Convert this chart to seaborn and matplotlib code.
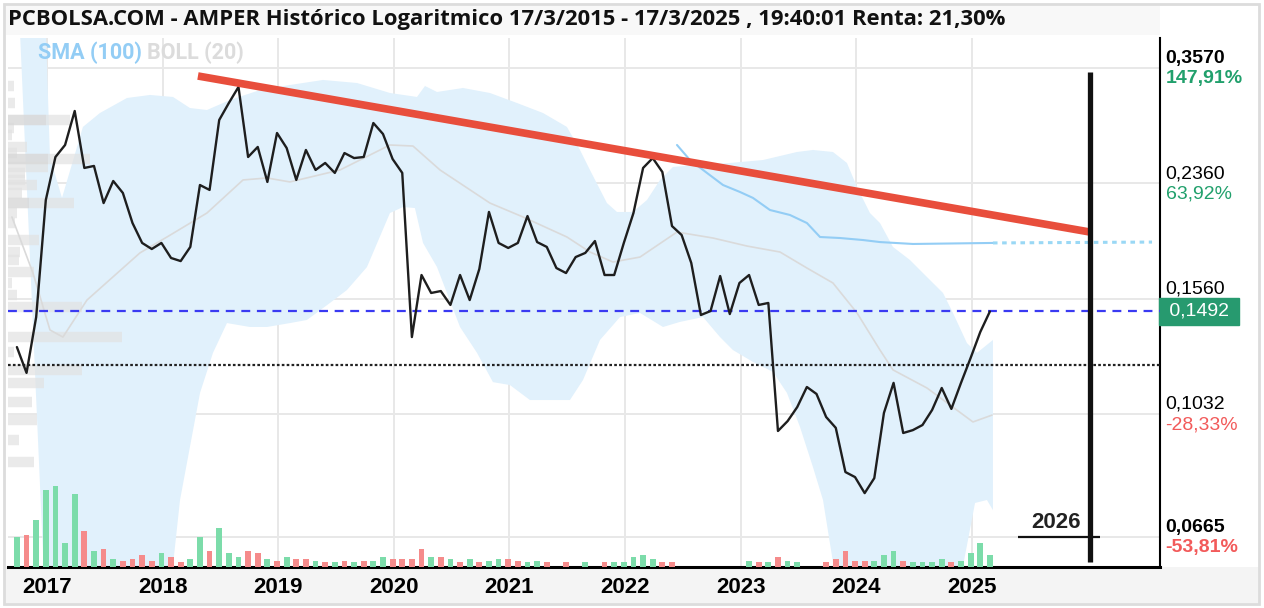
import numpy as np
import matplotlib
matplotlib.use("Agg")
import matplotlib.pyplot as plt
import seaborn as sns
from matplotlib.patches import Rectangle

# ---------------- data ----------------
START = 2016.74  # first monthly point (decimal year)
price = [0.1313, 0.1197, 0.1462, 0.2224, 0.2595, 0.2709, 0.3060, 0.2495, 0.2513, 0.2200,
         0.2381, 0.2281, 0.2048, 0.1907, 0.1866, 0.1907, 0.1807, 0.1787, 0.1880, 0.2347,
         0.2306, 0.2963, 0.3149, 0.3335, 0.2595, 0.2690, 0.2373, 0.2828, 0.2680, 0.2390,
         0.2661, 0.2477, 0.2540, 0.2451, 0.2632, 0.2585, 0.2595, 0.2931, 0.2818, 0.2576,
         0.2451, 0.1361, 0.1700, 0.1594, 0.1605, 0.1527, 0.1700, 0.1554, 0.1737, 0.2131,
         0.1907, 0.1873, 0.1907, 0.2100, 0.1913, 0.1880, 0.1743, 0.1712, 0.1813, 0.1840,
         0.1920, 0.1700, 0.1700, 0.1907, 0.2123, 0.2495, 0.2585, 0.2459, 0.2026, 0.1962,
         0.1775, 0.1473, 0.1494, 0.1694, 0.1478, 0.1652, 0.1700, 0.1527, 0.1538, 0.0972,
         0.1007, 0.1059, 0.1138, 0.1110, 0.1022, 0.0983, 0.0839, 0.0824, 0.0778, 0.0821,
         0.1037, 0.1155, 0.0965, 0.0975, 0.0993, 0.1048, 0.1134, 0.1052, 0.1155, 0.1263,
         0.1386, 0.1492]

volume = [90, 97, 143, 233, 245, 72, 222, 108, 47, 54,
          24, 19, 24, 35, 19, 42, 30, 14, 24, 90,
          48, 119, 42, 30, 48, 42, 24, 19, 30, 24,
          24, 19, 14, 14, 19, 14, 19, 19, 30, 24,
          24, 24, 54, 30, 30, 24, 14, 24, 14, 19,
          24, 24, 19, 14, 19, 14, 0, 14, 0, 14,
          0, 14, 14, 14, 30, 35, 24, 14, 14, 0,
          0, 0, 0, 0, 0, 0, 19, 14, 14, 30,
          19, 14, 0, 0, 14, 24, 48, 19, 19, 19,
          35, 48, 19, 14, 14, 14, 24, 14, 19, 42,
          72, 35]
vol_dir = ("GRGGGGGRGR" "GRRRRGRRGG" "RGGGRRGRGR" "RGRGRGRGGR" "RRRGRGRGRG"
           "GRRGGRGRGG" "GRGGGGGRRG" "GGGGGGGRGR" "GGGGRRRRRG" "GGRGGGGRGG" "GG")

boll_up_x = [2016.766, 2016.983, 2017.026, 2017.130, 2017.311, 2017.458, 2017.692, 2017.891,
             2018.090, 2018.237, 2018.384, 2018.583, 2018.843, 2019.102, 2019.388, 2019.682,
             2019.967, 2020.201, 2020.270, 2020.374, 2020.599, 2020.832, 2021.066, 2021.291,
             2021.498, 2021.611, 2021.697, 2021.844, 2021.931, 2022.069, 2022.190, 2022.303,
             2022.415, 2022.623, 2022.908, 2023.194, 2023.488, 2023.626, 2023.799, 2023.920,
             2024.007, 2024.119, 2024.206, 2024.318, 2024.465, 2024.612, 2024.751, 2024.837,
             2024.958, 2025.045, 2025.183]
boll_up = [0.45, 0.45, 0.2595, 0.2241, 0.2890, 0.3038, 0.3206, 0.3241,
           0.3218, 0.3093, 0.3071, 0.3183, 0.3299, 0.3359, 0.3420, 0.3383,
           0.3264, 0.3218, 0.3347, 0.3276, 0.3323, 0.3264, 0.3149, 0.3038,
           0.2890, 0.2661, 0.2477, 0.2200, 0.2131, 0.2131, 0.2224, 0.2390,
           0.2504, 0.2522, 0.2540, 0.2567, 0.2642, 0.2661, 0.2642, 0.2540,
           0.2331, 0.2123, 0.2048, 0.1880, 0.1794, 0.1688, 0.1594, 0.1484,
           0.1332, 0.1286, 0.1347]

boll_lo_x = [2016.766, 2016.974, 2018.081, 2018.151, 2018.324, 2018.436, 2018.557, 2018.756,
             2018.903, 2019.102, 2019.249, 2019.448, 2019.595, 2019.768, 2019.967, 2020.080,
             2020.183, 2020.253, 2020.374, 2020.573, 2020.720, 2020.858, 2021.005, 2021.178,
             2021.524, 2021.637, 2021.784, 2021.957, 2022.130, 2022.329, 2022.476, 2022.675,
             2022.822, 2022.934, 2023.107, 2023.280, 2023.401, 2023.514, 2023.626, 2023.713,
             2023.817, 2024.855, 2024.924, 2025.028, 2025.131, 2025.183]
boll_lo = [0.409, 0.058, 0.058, 0.0759, 0.1114, 0.1286, 0.1431, 0.1411,
           0.1411, 0.1431, 0.1447, 0.1538, 0.1611, 0.1749, 0.2123, 0.2169,
           0.2161, 0.1907, 0.1749, 0.1411, 0.1286, 0.1158, 0.1146, 0.1086,
           0.1086, 0.1167, 0.1347, 0.1462, 0.1484, 0.1411, 0.1437, 0.1462,
           0.1361, 0.1299, 0.1245, 0.1201, 0.1114, 0.0986, 0.0854, 0.0759,
           0.058, 0.058, 0.0599, 0.0751, 0.0759, 0.0732]

boll_mid_x = [2016.697, 2016.879, 2017.026, 2017.138, 2017.346, 2017.804, 2018.038, 2018.384,
              2018.696, 2018.903, 2019.102, 2019.535, 2019.967, 2020.166, 2020.400, 2020.832,
              2021.118, 2021.498, 2021.697, 2021.896, 2022.130, 2022.450, 2022.761, 2023.055,
              2023.341, 2023.574, 2023.799, 2024.007, 2024.206, 2024.318, 2024.612, 2025.010,
              2025.175]
boll_mid = [0.2093, 0.1712, 0.1396, 0.1361, 0.1554, 0.1840, 0.1948, 0.2123,
            0.2390, 0.2407, 0.2373, 0.2477, 0.2709, 0.2699, 0.2477, 0.2200,
            0.2093, 0.1948, 0.1846, 0.1781, 0.1813, 0.1983, 0.1941, 0.1886,
            0.1846, 0.1743, 0.1652, 0.1484, 0.1299, 0.1210, 0.1134, 0.1004,
            0.1029]

sma_x = [2022.450, 2022.562, 2022.709, 2022.848, 2022.995, 2023.107, 2023.254, 2023.427,
         2023.574, 2023.687, 2023.860, 2024.059, 2024.206, 2024.491, 2025.183]
sma = [0.2709, 0.2567, 0.2451, 0.2347, 0.2289, 0.2241, 0.2146, 0.2108,
       0.2048, 0.1948, 0.1941, 0.1927, 0.1913, 0.1900, 0.1907]
sma_proj_x = [2025.183, 2026.559]
sma_proj = [0.1907, 0.1913]

trend_x = [2018.306, 2026.022]
trend_y = [0.3469, 0.1983]

prof_price = [0.3347, 0.3149, 0.2963, 0.2879, 0.2808, 0.2690, 0.2632, 0.2576, 0.2504, 0.2451,
              0.2390, 0.2347, 0.2281, 0.2200, 0.2123, 0.2048, 0.1927, 0.1846, 0.1794, 0.1718,
              0.1652, 0.1582, 0.1516, 0.1361, 0.1290, 0.1210, 0.1155, 0.1078, 0.1011, 0.0941,
              0.0870]
prof_vol = [6, 7, 62, 6, 4, 19, 9, 82, 40, 17, 17, 29, 14, 66, 9, 7, 31, 12, 11, 26,
            4, 9, 74, 114, 6, 74, 36, 24, 29, 11, 26]
prof2_price = [0.2963, 0.2576, 0.2200]
prof2_vol = [38, 40, 21]

years = [2017, 2018, 2019, 2020, 2021, 2022, 2023, 2024, 2025]
levels = [0.3570, 0.2360, 0.1560, 0.1032, 0.0665]
level_pct = ["147,91%", "63,92%", "", "-28,33%", "-53,81%"]
level_bold = [True, False, False, False, True]
last_price = 0.1492
base_price = 0.1231
marker_year = 2026.02
marker_top, marker_bot = 0.352, 0.0608
marker_label = "2026"

title = "PCBOLSA.COM - AMPER Histórico Logaritmico 17/3/2015 - 17/3/2025 , 19:40:01 Renta: 21,30%"

# ---------------- style ----------------
sns.set_theme(style="white")
plt.rcParams["font.family"] = ["Liberation Sans", "DejaVu Sans"]

W, H = 1264, 608
fig = plt.figure(figsize=(W / 100, H / 100), dpi=100)
fig.patch.set_facecolor("white")

# background bands
fig.add_artist(Rectangle((5 / W, 1 - 35 / H), 1155 / W, 30 / H, transform=fig.transFigure,
                         facecolor="#f8f8f8", edgecolor="none", zorder=0))
fig.add_artist(Rectangle((5 / W, 5 / H), 1254 / W, 36 / H, transform=fig.transFigure,
                         facecolor="#f4f4f4", edgecolor="none", zorder=0))
fig.add_artist(Rectangle((4 / W, 4 / H), 1255 / W, 600 / H, transform=fig.transFigure,
                         fill=False, edgecolor="#dcdcdc", linewidth=2, zorder=5))

rect = [8 / W, 1 - 567 / H, 1152 / W, 529 / H]
XMIN, XMAX = 2016.663, 2026.628
YMIN, YMAX = 0.0597, 0.3975

ax_bg = fig.add_axes(rect)
ax_bg.set_yscale("log")
ax_bg.set_zorder(0)
ax_vol = fig.add_axes(rect, sharex=ax_bg)
ax_vol.set_zorder(1)
ax_prof = fig.add_axes(rect, sharey=ax_bg)
ax_prof.set_zorder(2)
ax = fig.add_axes(rect, sharex=ax_bg, sharey=ax_bg)
ax.set_zorder(3)
for a in (ax_vol, ax_prof, ax):
    a.patch.set_visible(False)

# grid
for y in levels:
    ax_bg.axhline(y, color="#e8e8e8", lw=1.4, zorder=1)
for x in years:
    ax_bg.axvline(x, color="#e8e8e8", lw=1.4, zorder=1)

# Bollinger band fill
ax_bg.fill(np.r_[boll_up_x, boll_lo_x[::-1]], np.r_[boll_up, boll_lo[::-1]],
           color="#e1f1fc", lw=0, zorder=2)

# volume
dates = START + np.arange(len(price)) / 12.0
vcol = ["#7cdcaa" if d == "G" else "#f58b8b" for d in vol_dir]
ax_vol.bar(dates, volume, width=0.05, color=vcol, lw=0)
ax_vol.set_ylim(0, 1600)
ax_vol.set_axis_off()

# volume profile
ax_prof.hlines(prof_price, 0, prof_vol, color="#e2e2e2", lw=7.5, alpha=0.7)
ax_prof.hlines(prof2_price, 0, prof2_vol, color="#d2d2d2", lw=7.5, alpha=0.45)
ax_prof.set_xlim(0, 1152)
ax_prof.set_axis_off()

# lines
sns.lineplot(x=boll_mid_x, y=boll_mid, ax=ax, color="#dadada", lw=1.2, zorder=3)
sns.lineplot(x=sma_x, y=sma, ax=ax, color="#93cdf5", lw=1.5, zorder=3)
ax.plot(sma_proj_x, sma_proj, color="#9ad8f5", lw=2.2, dashes=(1.5, 1.5), zorder=3)
ax.axhline(base_price, color="#222222", lw=1.6, dashes=(1.2, 1.0), zorder=4)
ax.axhline(last_price, color="#3a3af2", lw=1.6, dashes=(4, 3), zorder=4)
sns.lineplot(x=dates, y=price, ax=ax, color="#1e1e1e", lw=1.7, zorder=5)
sns.lineplot(x=trend_x, y=trend_y, ax=ax, color="#e84e3c", lw=5.5, zorder=6,
             solid_capstyle="butt")
ax.vlines(marker_year, marker_bot, marker_top, color="#111111", lw=3.8, zorder=7)
ax.hlines(levels[-1], 2025.40, 2026.11, color="#111111", lw=1.6, zorder=7)
ax.annotate(marker_label, xy=(2025.73, levels[-1]), xytext=(0, 3), textcoords="offset points",
            ha="center", va="bottom", fontsize=16, fontweight="bold", color="#222222")

ax.set_xlim(XMIN, XMAX)
ax.set_ylim(YMIN, YMAX)
ax.set_axis_off()
ax_bg.set_xlim(XMIN, XMAX)
ax_bg.set_ylim(YMIN, YMAX)

# axes frame and ticks
for s in ("left", "top"):
    ax_bg.spines[s].set_visible(False)
ax_bg.spines["bottom"].set_color("#000000")
ax_bg.spines["bottom"].set_linewidth(2.2)
ax_bg.spines["right"].set_color("#000000")
ax_bg.spines["right"].set_linewidth(1.5)
ax_bg.set_xticks(years)
ax_bg.set_xticklabels([str(y) for y in years], fontsize=16, fontweight="bold", color="#000000")
ax_bg.tick_params(axis="x", length=0, pad=7)
ax_bg.set_yticks([])
ax_bg.yaxis.set_minor_locator(plt.NullLocator())
ax_bg.set_xlabel("")
ax_bg.set_ylabel("")

# right-hand labels
GREEN, RED = "#21a06c", "#f25a5a"
for lv, pct, bold in zip(levels, level_pct, level_bold):
    w = "bold" if bold else "normal"
    ax.annotate(f"{lv:.4f}".replace(".", ","), xy=(1, lv), xycoords=("axes fraction", "data"),
                xytext=(4, 1.0), textcoords="offset points", ha="left", va="bottom",
                fontsize=14, fontweight=w, color="#000000")
    if pct:
        ax.annotate(pct, xy=(1, lv), xycoords=("axes fraction", "data"),
                    xytext=(4, -1.5), textcoords="offset points", ha="left", va="top",
                    fontsize=14, fontweight=w, color=GREEN if not pct.startswith("-") else RED)
ax.annotate(" " + f"{last_price:.4f}".replace(".", ",") + " ", xy=(1, last_price),
            xycoords=("axes fraction", "data"), xytext=(3, 0), textcoords="offset points",
            ha="left", va="center", fontsize=14, color="white",
            bbox=dict(boxstyle="square,pad=0.25", fc="#279a6f", ec="#279a6f"))

# legend texts
leg1 = ax.text(30 / 1152, 1 - 15 / 529, "SMA (100)", transform=ax.transAxes, fontsize=15.5,
               fontweight="bold", color="#93cdf5", va="center", ha="left",
               family=["Roboto", "DejaVu Sans"])
ax.annotate("BOLL (20)", xy=(1, 0.5), xycoords=leg1, xytext=(4, 0), textcoords="offset points",
            fontsize=15.5, fontweight="bold", color="#dcdcdc", va="center", ha="left",
            family=["Roboto", "DejaVu Sans"])

# title
fig.text(8 / W, 1 - 19 / H, title, ha="left", va="center", fontsize=15.8, fontweight="bold",
         color="#111111", family=["Open Sans", "DejaVu Sans"])

fig.savefig("out.png", dpi=100)
